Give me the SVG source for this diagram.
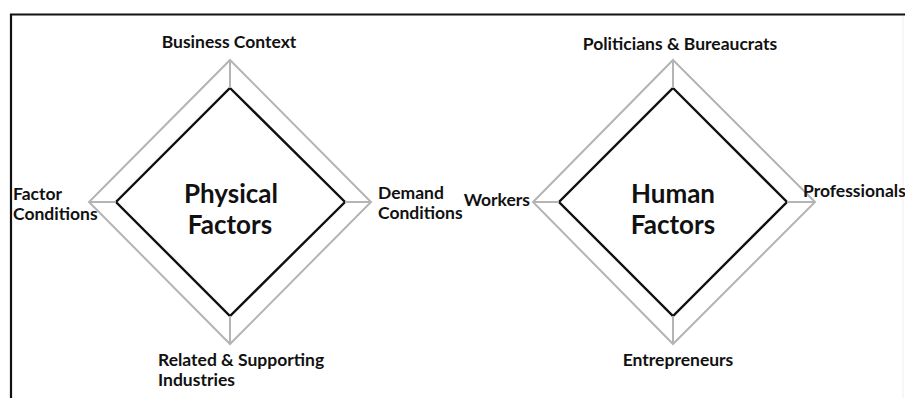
<svg xmlns="http://www.w3.org/2000/svg" width="905" height="398" viewBox="0 0 905 398">
  <style>
    .frame { fill: none; stroke: #111; stroke-width: 2.2; }
    .outer { fill: none; stroke: #b4b4b4; stroke-width: 2; stroke-linejoin: miter; }
    .inner { fill: none; stroke: #111; stroke-width: 2.4; stroke-linejoin: miter; }
    .spoke { stroke: #b4b4b4; stroke-width: 2; }
    .lbl { font-family: Lato, "Open Sans", sans-serif; font-weight: 700; font-size: 17.5px; fill: #111; }
    .title { font-family: Lato, "Open Sans", sans-serif; font-weight: 700; font-size: 26px; fill: #111; text-anchor: middle; }
  </style>

  <rect width="905" height="398" fill="#fff"/>

  <!-- outer frame: top and left edges, faint right edge -->
  <g id="frame">
    <path class="frame" d="M11 398 V14.5 H905"/>
    <line x1="903" y1="16" x2="903" y2="398" stroke="#eeeeee" stroke-width="1"/>
  </g>

  <!-- Physical factors diamond -->
  <g id="physical">
    <polygon class="outer" points="230,60 371,202 230,344 89,202"/>
    <polygon class="inner" points="230,88 345,202 230,316 116,202"/>
    <text class="title" x="231" y="203">Physical</text>
    <text class="title" x="230" y="234">Factors</text>
  </g>

  <!-- Human factors diamond -->
  <g id="human">
    <polygon class="outer" points="673,60 815,202 673,344 533,202"/>
    <polygon class="inner" points="673,88 787,202 673,316 559,202"/>
    <text class="title" x="673" y="203">Human</text>
    <text class="title" x="673" y="234">Factors</text>
  </g>

  <!-- spokes joining outer and inner corners -->
  <g id="connectors">
    <line class="spoke" x1="230" y1="60" x2="230" y2="88"/>
    <line class="spoke" x1="230" y1="316" x2="230" y2="344"/>
    <line class="spoke" x1="89" y1="202" x2="116" y2="202"/>
    <line class="spoke" x1="345" y1="202" x2="371" y2="202"/>
    <line class="spoke" x1="673" y1="60" x2="673" y2="88"/>
    <line class="spoke" x1="673" y1="316" x2="673" y2="344"/>
    <line class="spoke" x1="533" y1="202" x2="559" y2="202"/>
    <line class="spoke" x1="787" y1="202" x2="815" y2="202"/>
  </g>

  <!-- corner labels -->
  <g id="lbl-business"><text class="lbl" x="229" y="48" text-anchor="middle">Business Context</text></g>
  <g id="lbl-factor"><text class="lbl" x="13" y="200">Factor</text><text class="lbl" x="13" y="220">Conditions</text></g>
  <g id="lbl-demand"><text class="lbl" x="378" y="199">Demand</text><text class="lbl" x="378" y="219">Conditions</text></g>
  <g id="lbl-related"><text class="lbl" x="158" y="366">Related &amp; Supporting</text><text class="lbl" x="158" y="386">Industries</text></g>
  <g id="lbl-politicians"><text class="lbl" x="680" y="50" text-anchor="middle">Politicians &amp; Bureaucrats</text></g>
  <g id="lbl-workers"><text class="lbl" x="530" y="206" text-anchor="end">Workers</text></g>
  <g id="lbl-professionals"><text class="lbl" x="803" y="197">Professionals</text></g>
  <g id="lbl-entrepreneurs"><text class="lbl" x="678" y="366" text-anchor="middle">Entrepreneurs</text></g>
</svg>
